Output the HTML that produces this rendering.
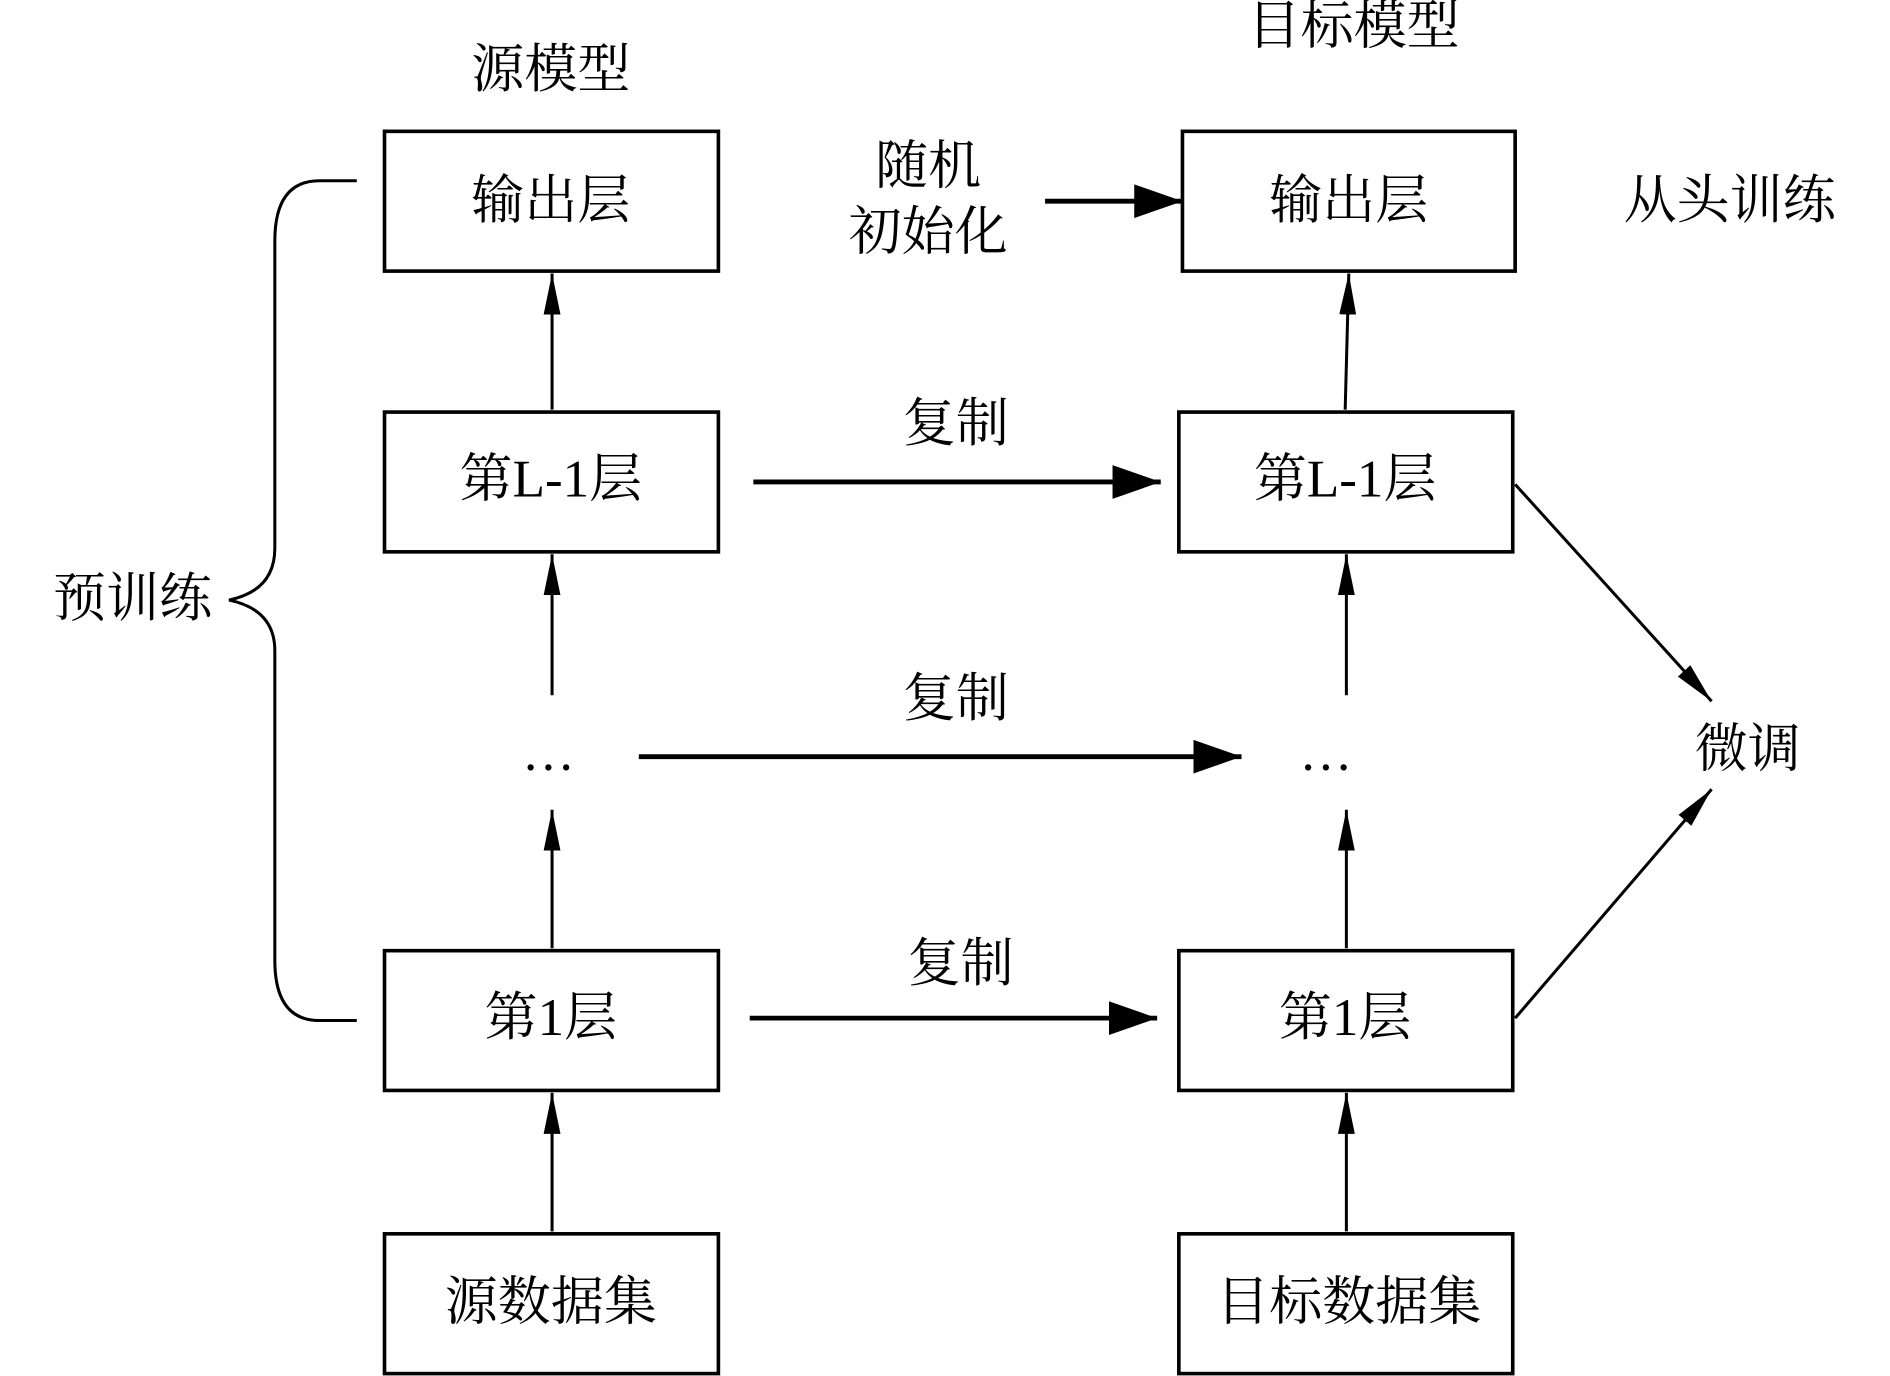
<!DOCTYPE html>
<html><head><meta charset="utf-8"><style>
html,body{margin:0;padding:0;background:#fff;}
svg{display:block}
text{font-family:"Liberation Serif","Noto Serif CJK SC",serif;font-size:44px;fill:#000;text-anchor:middle;dominant-baseline:central}
</style></head><body>
<svg width="1890" height="1376" viewBox="0 0 1568 1142" preserveAspectRatio="none" xmlns="http://www.w3.org/2000/svg">
<defs>
<marker id="a" markerWidth="12" markerHeight="10" refX="11" refY="5" orient="auto" markerUnits="userSpaceOnUse"><path d="M0,0 L12,5 L0,10 Z" fill="#000"/></marker>
<marker id="b" markerWidth="40" markerHeight="28" refX="40" refY="14" orient="auto" markerUnits="userSpaceOnUse"><path d="M0,0 L40,14 L0,28 Z" fill="#000"/></marker>
<marker id="c" markerWidth="34" markerHeight="14" refX="34" refY="7" orient="auto" markerUnits="userSpaceOnUse"><path d="M0,0 L34,7 L0,14 Z" fill="#000"/></marker>
</defs>
<g fill="none" stroke="#000" stroke-width="3">
<rect x="319" y="109" width="277" height="116"/>
<rect x="319" y="342" width="277" height="116"/>
<rect x="319" y="789" width="277" height="116"/>
<rect x="319" y="1024" width="277" height="116"/>
<rect x="981" y="109" width="276" height="116"/>
<rect x="978" y="342" width="277" height="116"/>
<rect x="978" y="789" width="277" height="116"/>
<rect x="978" y="1024" width="277" height="116"/>
</g>
<g stroke="#000" stroke-width="2.5" fill="none">
<line x1="458" y1="340" x2="458" y2="227" marker-end="url(#c)"/>
<line x1="458" y1="577" x2="458" y2="460" marker-end="url(#c)"/>
<line x1="458" y1="787" x2="458" y2="672" marker-end="url(#c)"/>
<line x1="458" y1="1022" x2="458" y2="907" marker-end="url(#c)"/>
<line x1="1116" y1="340" x2="1119" y2="227" marker-end="url(#c)"/>
<line x1="1117" y1="577" x2="1117" y2="460" marker-end="url(#c)"/>
<line x1="1117" y1="787" x2="1117" y2="672" marker-end="url(#c)"/>
<line x1="1117" y1="1022" x2="1117" y2="907" marker-end="url(#c)"/>
<line x1="1257" y1="402" x2="1420" y2="582" marker-end="url(#c)"/>
<line x1="1257" y1="845" x2="1420" y2="655" marker-end="url(#c)"/>
</g>
<g stroke="#000" stroke-width="4" fill="none">
<line x1="625" y1="400" x2="963" y2="400" marker-end="url(#b)"/>
<line x1="530" y1="628" x2="1030" y2="628" marker-end="url(#b)"/>
<line x1="622" y1="845" x2="960" y2="845" marker-end="url(#b)"/>
<line x1="867" y1="167" x2="981" y2="167" marker-end="url(#b)"/>
</g>
<path d="M296,150 L265,150 Q228,150 228,200 L228,455 Q228,490 190,498 Q228,506 228,540 L228,797 Q228,847 265,847 L296,847" fill="none" stroke="#000" stroke-width="2.5"/>
<text x="457" y="58">源模型</text>
<text x="1123" y="22">目标模型</text>
<text x="457" y="167">输出层</text>
<text x="1119" y="167">输出层</text>
<text x="457" y="398">第L-1层</text>
<text x="1116" y="398">第L-1层</text>
<text x="457" y="845">第1层</text>
<text x="1116" y="845">第1层</text>
<text x="457" y="1081">源数据集</text>
<text x="1119" y="1081">目标数据集</text>
<text x="455" y="625">…</text>
<text x="1100" y="625">…</text>
<text x="770" y="138">随机</text>
<text x="770" y="193">初始化</text>
<text x="793" y="352">复制</text>
<text x="793" y="580">复制</text>
<text x="797" y="800">复制</text>
<text x="1435" y="167">从头训练</text>
<text x="110" y="497">预训练</text>
<text x="1450" y="622">微调</text>
</svg>
</body></html>
